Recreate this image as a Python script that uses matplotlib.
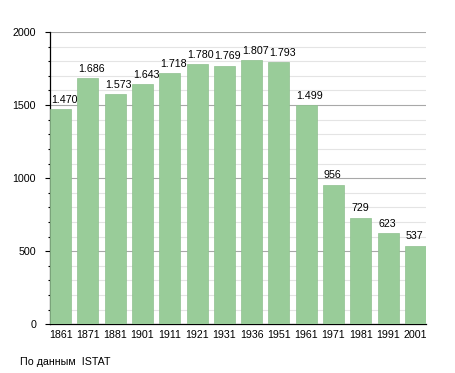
import matplotlib

matplotlib.use("Agg")

import matplotlib.pyplot as plt  # noqa: E402
from matplotlib.ticker import MultipleLocator  # noqa: E402

YEARS = ["1861", "1871", "1881", "1901", "1911", "1921", "1931",
         "1936", "1951", "1961", "1971", "1981", "1991", "2001"]
POPULATION = [1470, 1686, 1573, 1643, 1718, 1780, 1769,
              1807, 1793, 1499, 956, 729, 623, 537]
SOURCE = "По данным  ISTAT"

BAR_COLOR = "#99cc99"
BAR_WIDTH = 0.77
FONT = "Liberation Sans"


def fmt_it(v: int) -> str:
    """Italian thousands separator: 1470 -> 1.470."""
    return f"{v:,}".replace(",", ".")


fig = plt.figure(figsize=(4.55, 3.73), dpi=100)
ax = fig.add_axes([0.110, 0.131, 0.826, 0.783])

x = list(range(len(YEARS)))
ax.bar(x, POPULATION, width=BAR_WIDTH, color=BAR_COLOR,
       edgecolor="#8fc08f", linewidth=0.5, zorder=3)
# value labels start at the bar's left edge, as in the source chart
for xi, v in zip(x, POPULATION):
    ax.text(xi - BAR_WIDTH / 2 + 0.03, v + 30, fmt_it(v), ha="left",
            va="bottom", fontsize=7.7, family=FONT, color="black", zorder=4)

ax.set_xlim(-BAR_WIDTH / 2, len(YEARS) - 1 + BAR_WIDTH / 2)
ax.set_ylim(0, 2000)
ax.set_xticks(x)
ax.set_xticklabels(YEARS, fontsize=7.7, family=FONT)
ax.tick_params(axis="x", length=0, pad=4)

ax.yaxis.set_major_locator(MultipleLocator(500))
ax.yaxis.set_minor_locator(MultipleLocator(100))
ax.tick_params(axis="y", which="major", length=3.6, width=0.8, pad=6.5,
               labelsize=7.7)
ax.tick_params(axis="y", which="minor", length=1.8, width=0.8)
for lab in ax.get_yticklabels():
    lab.set_family(FONT)

ax.grid(axis="y", which="minor", color="#e4e4e4", linewidth=0.8, zorder=0)
ax.grid(axis="y", which="major", color="#a8a8a8", linewidth=0.8, zorder=1)

for side in ("top", "right"):
    ax.spines[side].set_visible(False)
ax.spines["left"].set_linewidth(0.9)
ax.spines["bottom"].set_linewidth(0.9)

fig.text(20 / 455, 1 - 362 / 373, SOURCE, ha="left", va="center",
         fontsize=7.7, family=FONT)

fig.savefig("out.png", dpi=100, facecolor="white")
